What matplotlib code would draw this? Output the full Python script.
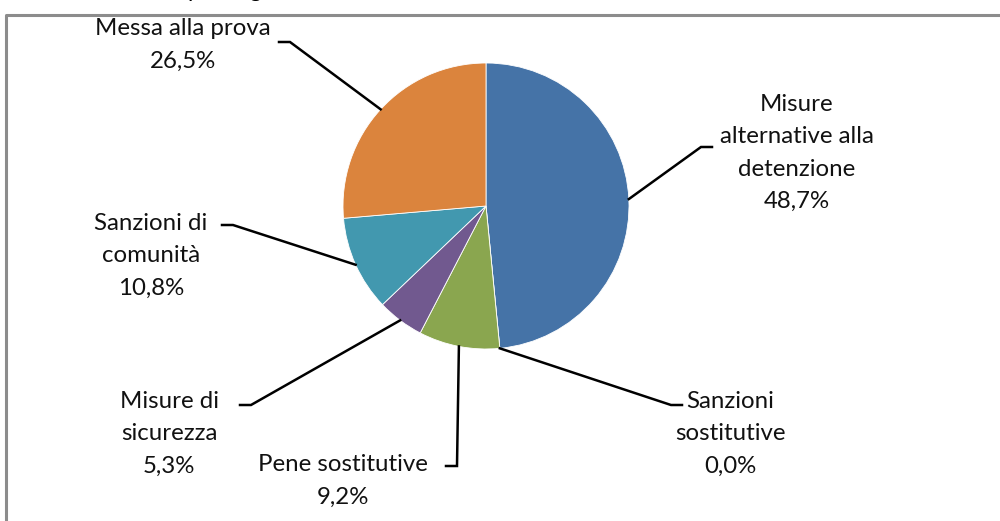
import numpy as np
import matplotlib.pyplot as plt
from matplotlib.lines import Line2D

plt.rcParams['font.family'] = ['Lato', 'DejaVu Sans']

labels = ["Misure\nalternative alla\ndetenzione", "Sanzioni\nsostitutive",
          "Pene sostitutive", "Misure di\nsicurezza", "Sanzioni di\ncomunità",
          "Messa alla prova"]
values = [48.7, 0.0, 9.2, 5.3, 10.8, 26.5]
pct_text = ["48,7%", "0,0%", "9,2%", "5,3%", "10,8%", "26,5%"]
colors = ["#4573a7", "#aa4643", "#8aa64f", "#71598f", "#4298af", "#db843d"]

# label block centres (pixels, y from top) and where the leader meets the text
label_pos = [(797, 153), (730, 434), (343, 481), (169, 434), (151, 256), (183, 45)]
leader_end = [(712, 147), (682, 405), (446, 466), (240, 405), (222, 225), (279, 42)]
leader_dir = [-1, -1, 1, 1, 1, 1]

W, H = 1000, 521
fig = plt.figure(figsize=(W / 100, H / 100), dpi=100)
ax = fig.add_axes([0, 0, 1, 1])

cx, cy, r = 486, H - 206, 143
wedges, _ = ax.pie(values, colors=colors, startangle=90, counterclock=False,
                   center=(cx, cy), radius=r, frame=True,
                   wedgeprops=dict(edgecolor='white', linewidth=0.6))
ax.set_xlim(0, W)
ax.set_ylim(0, H)
ax.set_aspect('equal')
ax.axis('off')

for w, lab, pct, (lx, ly), (ex, ey), d in zip(wedges, labels, pct_text,
                                               label_pos, leader_end, leader_dir):
    ang = np.deg2rad((w.theta1 + w.theta2) / 2)
    px, py = cx + r * np.cos(ang), cy + r * np.sin(ang)
    ex2 = ex + 11 * d
    ax.plot([px, ex2, ex], [py, H - ey, H - ey], color='black', lw=1.8,
            solid_joinstyle='miter')
    ax.text(lx, H - ly, lab + "\n" + pct, ha='center', va='center',
            fontsize=17.3, color='#111111', linespacing=1.66)

# chart frame (cropped)
fig.add_artist(Line2D([6 / W, 6 / W, 1], [0, 1 - 15 / H, 1 - 15 / H],
                      transform=fig.transFigure, color='#8c8c8c', lw=2.2))
# cut-off title above the frame
fig.text(194 / W, 1 + 3 / H, "p", fontsize=16, ha='center', va='baseline')
fig.text(255 / W, 1 + 3 / H, "g", fontsize=16, ha='center', va='baseline')

fig.savefig("out.png", dpi=100)
